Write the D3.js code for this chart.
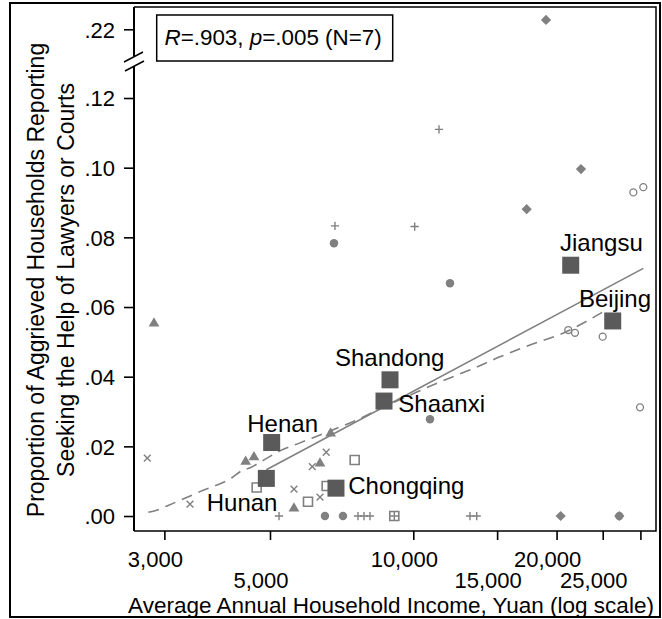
<!DOCTYPE html>
<html>
<head>
<meta charset="utf-8">
<script src="https://cdn.jsdelivr.net/npm/d3@7"></script>
<style>
  body { margin: 0; background: #fff; }
  text { font-family: "Liberation Sans", Arial, Helvetica, sans-serif; }
</style>
</head>
<body>
<svg id="svg"></svg>
<script>
// provinces (big squares)
const provinces = ['Hunan', 'Henan', 'Chongqing', 'Shandong', 'Shaanxi', 'Jiangsu', 'Beijing'];
const provIncome = [4912, 5041, 6880, 8935, 8679, 21415, 26240];
const provShare = [0.0108, 0.0211, 0.0080, 0.0391, 0.0330, 0.0720, 0.0560];

// smaller markers, one array pair per symbol
const triIncome = [2853, 4445, 4627, 5615, 6368, 6705];
const triShare = [0.0553, 0.0156, 0.0169, 0.0022, 0.0151, 0.0237];
const xIncome = [2762, 3396, 5615, 6368, 6135, 6563];
const xShare = [0.0166, 0.0034, 0.0077, 0.0054, 0.0142, 0.0183];
const hsqIncome = [4688, 6009, 6577, 7532, 9123];
const hsqShare = [0.0082, 0.0041, 0.0086, 0.0161, 0];
const plusIncome = [5223, 7653, 7878, 8110, 9123, 13156, 13590, 6846, 10068, 11324];
const plusShare = [0, 0, 0, 0, 0, 0, 0, 0.0833, 0.0831, 0.1110];
const dotIncome = [6523, 7117, 6814, 11942, 10842];
const dotShare = [0, 0, 0.0783, 0.0668, 0.0278];
const diaIncome = [19003, 22506, 17305, 20398, 27086];
const diaShare = [0.2227, 0.0996, 0.0881, 0, 0];
const ringIncome = [28993, 30425, 21163, 21862, 24995, 29945, 27086];
const ringShare = [0.0929, 0.0944, 0.0534, 0.0526, 0.0515, 0.0312, 0];

// fitted line and smoothed (dashed) line
const fitIncome = [4912, 30420];
const fitShare = [0.0133, 0.0711];
const smoothIncome = [2775, 2867, 3038, 3564, 4160, 4387, 4516, 4786, 5247, 5781, 6683, 7616, 8637, 9842, 11378, 13349, 15207, 17590, 20630, 25396];
const smoothShare = [0.0011, 0.0015, 0.0029, 0.0070, 0.0110, 0.0132, 0.0137, 0.0156, 0.0187, 0.0210, 0.0244, 0.0276, 0.0312, 0.0347, 0.0385, 0.0423, 0.0457, 0.0491, 0.0525, 0.0591];

// ticks
const xTicks = [3000, 5000, 10000, 15000, 20000, 25000, 30000];
const xTickLabels = ['3,000', '5,000', '10,000', '15,000', '20,000', '25,000', ''];
const yTicks = [0, 0.02, 0.04, 0.06, 0.08, 0.10, 0.12, 0.22];
const yTickLabels = ['.00', '.02', '.04', '.06', '.08', '.10', '.12', '.22'];

// label placement relative to each square (px)
const labelOffsets = {
  Hunan: [-59.6, 32.7],
  Henan: [-24.4, -11],
  Chongqing: [12.3, 5.7],
  Shandong: [-55, -14],
  Shaanxi: [14.3, 10.7],
  Jiangsu: [-10.7, -13.8],
  Beijing: [-33.7, -14.3],
};

const W = 662, H = 619;
const plot = { left: 134, right: 656, top: 7, bottom: 531 };
const gray = '#808080';
const dark = '#5a5a5a';
const font = '"Liberation Sans", Arial, sans-serif';

const svg = d3.select('#svg').attr('width', W).attr('height', H);

const x = d3.scaleLog().domain([2590, 32350]).range([plot.left, plot.right]);
// broken y axis: lower panel up to .125, upper panel around .22
const y = d3.scaleLinear()
  .domain([-0.0043, 0.125, 0.215, 0.2264])
  .range([plot.bottom, 80.6, 46.7, plot.top]);

// outer frame
svg.append('rect')
  .attr('x', 10).attr('y', 3).attr('width', 650).attr('height', 614)
  .attr('fill', 'none').attr('stroke', '#000').attr('stroke-width', 2);

// axes
const xAxis = d3.axisBottom(x).tickValues(xTicks).tickSize(9)
  .tickFormat((d, i) => xTickLabels[i]);
const gx = svg.append('g')
  .attr('transform', 'translate(0,' + plot.bottom + ')')
  .call(xAxis);
gx.select('.domain').remove();
gx.selectAll('line').attr('stroke', '#000').attr('stroke-width', 1.6);
gx.selectAll('text')
  .attr('font-size', 22).attr('fill', '#000')
  .attr('font-family', font)
  .attr('dy', 0).attr('x', -9.5)
  .attr('y', (d, i) => (i % 2 ? 57 : 36.3));

const yAxis = d3.axisLeft(y).tickValues(yTicks).tickSize(10).tickPadding(9)
  .tickFormat((d, i) => yTickLabels[i]);
const gy = svg.append('g')
  .attr('transform', 'translate(' + plot.left + ',0)')
  .call(yAxis);
gy.select('.domain').remove();
gy.selectAll('line').attr('stroke', '#000').attr('stroke-width', 1.6);
gy.selectAll('text')
  .attr('font-size', 22).attr('fill', '#000')
  .attr('font-family', font)
  .attr('dy', '0.36em');

// plot frame with a gap for the axis break
const frame = svg.append('g').attr('stroke', '#000').attr('fill', 'none');
frame.append('path')
  .attr('stroke-width', 1.5)
  .attr('d', `M${plot.left},${plot.top}H${plot.right}V${plot.bottom}H${plot.left}`);
frame.append('line').attr('stroke-width', 2)
  .attr('x1', plot.left).attr('x2', plot.left).attr('y1', plot.top).attr('y2', 56);
frame.append('line').attr('stroke-width', 2)
  .attr('x1', plot.left).attr('x2', plot.left).attr('y1', 66).attr('y2', plot.bottom);
frame.append('line').attr('stroke-width', 1.5)
  .attr('x1', 124).attr('y1', 62).attr('x2', 143).attr('y2', 52);
frame.append('line').attr('stroke-width', 1.5)
  .attr('x1', 125).attr('y1', 71).attr('x2', 144).attr('y2', 61);

// lines
const line = d3.line().x((d) => x(d[0])).y((d) => y(d[1]));
svg.append('path')
  .datum(fitIncome.map((v, i) => [v, fitShare[i]]))
  .attr('d', line)
  .attr('fill', 'none').attr('stroke', gray).attr('stroke-width', 1.6);
svg.append('path')
  .datum(smoothIncome.map((v, i) => [v, smoothShare[i]]))
  .attr('d', line.curve(d3.curveMonotoneX))
  .attr('fill', 'none').attr('stroke', gray).attr('stroke-width', 1.6)
  .attr('stroke-dasharray', '11,7');

// small marker groups
const groups = [
  { inc: triIncome, val: triShare, type: d3.symbolTriangle, size: 50, fill: gray, stroke: 'none', sw: 0 },
  { inc: xIncome, val: xShare, type: d3.symbolX, size: 32, fill: 'none', stroke: gray, sw: 1.4 },
  { inc: hsqIncome, val: hsqShare, type: d3.symbolSquare, size: 81, fill: 'none', stroke: gray, sw: 1.6 },
  { inc: plusIncome, val: plusShare, type: d3.symbolPlus, size: 24, fill: 'none', stroke: gray, sw: 1.4 },
  { inc: dotIncome, val: dotShare, type: d3.symbolCircle, size: 56, fill: gray, stroke: 'none', sw: 0 },
  { inc: diaIncome, val: diaShare, type: d3.symbolSquare, size: 52, fill: gray, stroke: 'none', sw: 0, rot: 45 },
  { inc: ringIncome, val: ringShare, type: d3.symbolCircle, size: 38, fill: 'none', stroke: gray, sw: 1.3 },
];

groups.forEach((g) => {
  svg.append('g')
    .selectAll('path')
    .data(g.inc.map((v, i) => [v, g.val[i]]))
    .join('path')
    .attr('d', d3.symbol().type(g.type).size(g.size))
    .attr('transform', (d) => `translate(${x(d[0])},${y(d[1])})` + (g.rot ? ` rotate(${g.rot})` : ''))
    .attr('fill', g.fill)
    .attr('stroke', g.stroke)
    .attr('stroke-width', g.sw);
});

// provinces
const provData = provinces.map((p, i) => ({ name: p, inc: provIncome[i], val: provShare[i] }));
const side = 17;
svg.append('g')
  .selectAll('rect')
  .data(provData)
  .join('rect')
  .attr('x', (d) => x(d.inc) - side / 2)
  .attr('y', (d) => y(d.val) - side / 2)
  .attr('width', side).attr('height', side)
  .attr('fill', dark);

svg.append('g')
  .selectAll('text')
  .data(provData)
  .join('text')
  .attr('x', (d) => x(d.inc) + labelOffsets[d.name][0])
  .attr('y', (d) => y(d.val) + labelOffsets[d.name][1])
  .attr('font-size', 24)
  .attr('fill', '#000')
  .text((d) => d.name);

// annotation box
svg.append('rect')
  .attr('x', 156.7).attr('y', 15).attr('width', 236).attr('height', 46)
  .attr('fill', '#fff').attr('stroke', '#000').attr('stroke-width', 1.5);
const note = svg.append('text')
  .attr('x', 164.5).attr('y', 45).attr('font-size', 22.4).attr('fill', '#000');
note.append('tspan').attr('font-style', 'italic').text('R');
note.append('tspan').text('=.903, ');
note.append('tspan').attr('font-style', 'italic').text('p');
note.append('tspan').text('=.005 (N=7)');

// axis titles
svg.append('text')
  .attr('transform', 'translate(43.5,280) rotate(-90)')
  .attr('text-anchor', 'middle').attr('font-size', 23).attr('fill', '#000')
  .text('Proportion of Aggrieved Households Reporting');
svg.append('text')
  .attr('transform', 'translate(74,280) rotate(-90)')
  .attr('text-anchor', 'middle').attr('font-size', 23).attr('fill', '#000')
  .text('Seeking the Help of Lawyers or Courts');
svg.append('text')
  .attr('x', 391).attr('y', 613)
  .attr('text-anchor', 'middle').attr('font-size', 22.5).attr('fill', '#000')
  .text('Average Annual Household Income, Yuan (log scale)');
</script>
</body>
</html>
